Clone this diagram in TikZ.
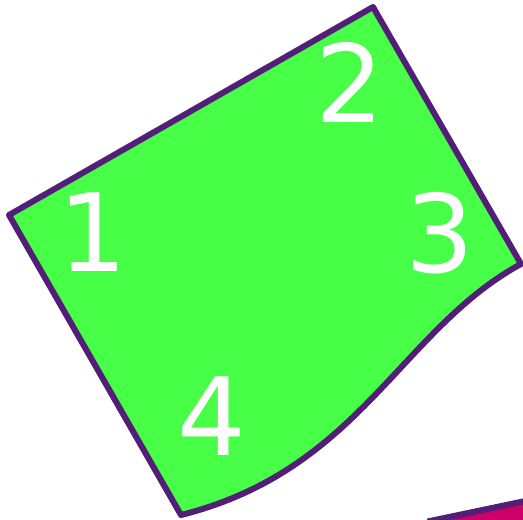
\documentclass[tikz,border=0pt]{standalone}
\usepackage{fontspec}
\setmainfont{DejaVu Sans}
\definecolor{fillgreen}{RGB}{71,255,71}
\definecolor{edgepurple}{RGB}{82,30,120}
\definecolor{magentafill}{RGB}{204,0,102}
\begin{document}
\begin{tikzpicture}[x=1pt,y=-1pt,
  region/.style={fill=fillgreen,draw=edgepurple,line width=6pt,line join=round},
  other/.style={fill=magentafill,draw=edgepurple,line width=6pt},
  lab/.style={text=white,font=\fontsize{108}{108}\selectfont,inner sep=0pt}]
\useasboundingbox (0,0) rectangle (523,520);
\begin{scope}
\clip (0,0) rectangle (523,520);
\draw[other] (430,521) -- (530,500) -- (530,540) -- (430,540) -- cycle;
\draw[region] (9,215) -- (373,7) -- (521,264) .. controls (400,330) and (360,470) .. (181,515) -- cycle;
\end{scope}
\node[lab] (n1) at (93,232) {1};
\node[lab] (n2) at (350,82) {2};
\node[lab] (n3) at (440,233) {3};
\node[lab] (n4) at (212,416) {4};
\end{tikzpicture}
\end{document}
